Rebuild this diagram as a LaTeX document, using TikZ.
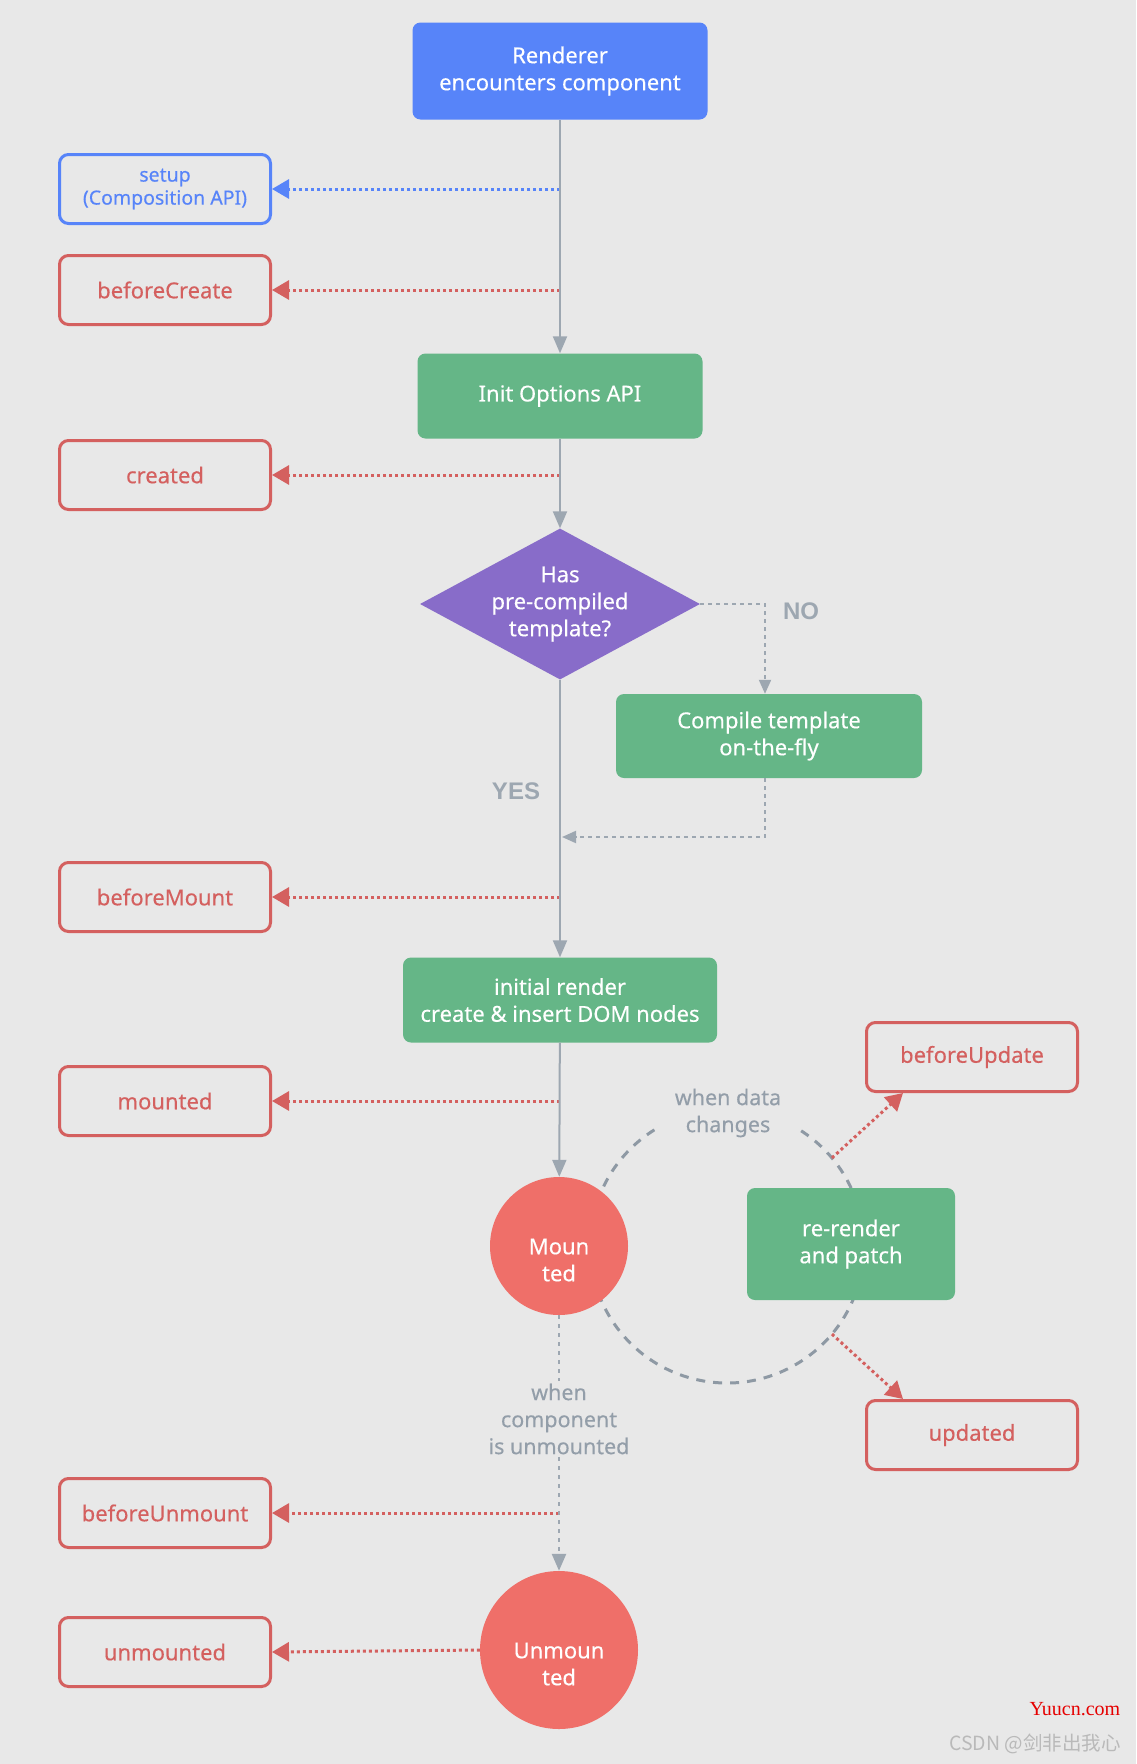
\documentclass[tikz,border=0pt]{standalone}
\usepackage{fontspec}
\setmainfont{Noto Sans}[FakeBold=0.3]
\newfontfamily\cjkfont{Noto Sans CJK SC}
\newfontfamily\wmfont{Liberation Serif}
\newfontfamily\tagfont{Liberation Sans}
\usepackage{tikz}
\usetikzlibrary{positioning,shapes.geometric,arrows.meta,calc}
\definecolor{bgc}{HTML}{E8E8E8}
\definecolor{vblue}{HTML}{5784F9}
\definecolor{vgreen}{HTML}{65B687}
\definecolor{vpurple}{HTML}{886CC9}
\definecolor{vred}{HTML}{D4605F}
\definecolor{vcirc}{HTML}{EF6F69}
\definecolor{vgray}{HTML}{9DA7B1}
\definecolor{vnote}{HTML}{939EA9}
\definecolor{vloop}{HTML}{8E99A4}
\tikzset{
  stage/.style={rectangle, rounded corners=8pt, fill=vgreen, text=white, align=center,
    inner sep=0pt, font=\fontsize{22}{27}\selectfont},
  hook/.style={rectangle, rounded corners=9pt, draw=vred, line width=3pt, text=vred, align=center,
    minimum width=211pt, minimum height=69pt, font=\fontsize{22}{27}\selectfont},
  state/.style={circle, fill=vcirc, inner sep=0pt},
  statetext/.style={text=white, align=center, yshift=-14pt, font=\fontsize{22}{27}\selectfont},
  note/.style={text=vnote, align=center, inner sep=3pt, font=\fontsize{21.5}{27}\selectfont},
  tag/.style={text=vgray, font=\tagfont\bfseries\fontsize{24}{26}\selectfont},
  flow/.style={draw=vgray, line width=2pt, -{Triangle[length=17pt,width=14pt]}},
  branch/.style={draw=vgray, line width=2pt, dash pattern=on 4pt off 4pt,
    -{Triangle[length=14pt,width=12pt]}},
  unmount/.style={draw=vgray, line width=2.5pt, dash pattern=on 4pt off 5pt},
  call/.style={draw=vred, line width=3pt, dash pattern=on 3pt off 3pt,
    -{Triangle[length=17pt,width=19pt]}},
  loop/.style={draw=vloop, line width=3pt, dash pattern=on 9pt off 8pt}
}
\begin{document}
\begin{tikzpicture}[x=1pt, y=-1pt]
 \useasboundingbox (0,0) rectangle (1136,1764);
 \fill[bgc] (0,0) rectangle (1136,1764);

 \coordinate (loopc) at (727,1246);
 \draw[loop] ($(loopc)+(122:137pt)$) arc[start angle=122, end angle=418, radius=137pt];

 \node[stage, fill=vblue, minimum width=295pt, minimum height=97pt] (renderer) at (560,71) {Renderer\\encounters component};
 \node[stage, minimum width=285pt, minimum height=85pt] (init) at (560,396) {Init Options API};
 \node[diamond, fill=vpurple, text=white, align=center, inner sep=0pt, aspect=1.85,
       minimum width=280pt, minimum height=151pt, font=\fontsize{22}{27}\selectfont] (decision) at (560,604) {Has\\pre-compiled\\template?};
 \node[stage, minimum width=306pt, minimum height=84pt] (compile) at (769,736) {Compile template\\on-the-fly};
 \node[stage, minimum width=314pt, minimum height=85pt] (render) at (560,1000) {initial render\\create \& insert DOM nodes};
 \node[stage, minimum width=208pt, minimum height=112pt] (rerender) at (851,1244) {re-render\\and patch};
 \node[state, minimum size=138pt, label={[statetext]center:Moun\\ted}] (Mounted) at (559,1246) {};
 \node[state, minimum size=158pt, label={[statetext]center:Unmoun\\ted}] (Unmounted) at (559,1650) {};

 \node[hook, draw=vblue, text=vblue, font=\fontsize{19.5}{23}\selectfont] (setup) at (165,189) {setup\\(Composition API)};
 \node[hook] (beforeCreate) at (165,290) {beforeCreate};
 \node[hook] (created) at (165,475) {created};
 \node[hook] (beforeMount) at (165,897) {beforeMount};
 \node[hook] (mounted) at (165,1101) {mounted};
 \node[hook] (beforeUnmount) at (165,1513) {beforeUnmount};
 \node[hook] (unmounted) at (165,1652) {unmounted};
 \node[hook] (beforeUpdate) at (972,1057) {beforeUpdate};
 \node[hook] (updated) at (972,1435) {updated};

 \node[tag] (yes) at (516,791) {YES};
 \node[tag] (no) at (801,611) {NO};
 \node[note] (whendata) at (728,1113) {when data\\changes};
 \node[note] (whenunm) at (559,1419) {when\\component\\is unmounted};

 \draw[call, draw=vblue] (renderer.south |- setup.east) -- (setup.east);
 \draw[call] (renderer.south |- beforeCreate.east) -- (beforeCreate.east);
 \draw[call] (init.south |- created.east) -- (created.east);
 \draw[call] (decision.south |- beforeMount.east) -- (beforeMount.east);
 \draw[call] (render.south |- mounted.east) -- (mounted.east);
 \draw[call] (Mounted.south |- beforeUnmount.east) -- (beforeUnmount.east);
 \draw[call] (Unmounted.west) -- (unmounted.east);
 \draw[call] ($(loopc)+(40:137pt)$) -- ([xshift=38pt]beforeUpdate.south west);
 \draw[call] ($(loopc)+(-40:137pt)$) -- ([xshift=38pt]updated.north west);

 \draw[flow] (renderer) -- (init);
 \draw[flow] (init) -- (decision);
 \draw[flow] (decision) -- (render);
 \draw[flow] (render) -- (Mounted);
 \coordinate (merge) at (562,837);
 \draw[branch] (decision.east) -| ([xshift=-4pt]compile.north);
 \draw[branch] ([xshift=-4pt]compile.south) |- (merge);
 \draw[unmount] (Mounted.south) -- (whenunm.north);
 \draw[unmount, -{Triangle[length=17pt,width=14pt]}] (whenunm.south) -- (Unmounted.north);

 \node[text=red!90!black, font=\wmfont\fontsize{20}{22}\selectfont] (wm1) at (1075,1709) {Yuucn.com};
 \node[text=gray!55, font=\cjkfont\fontsize{19.5}{20}\selectfont] (wm2) at (1035,1744) {CSDN @剑非出我心};
\end{tikzpicture}
\end{document}
